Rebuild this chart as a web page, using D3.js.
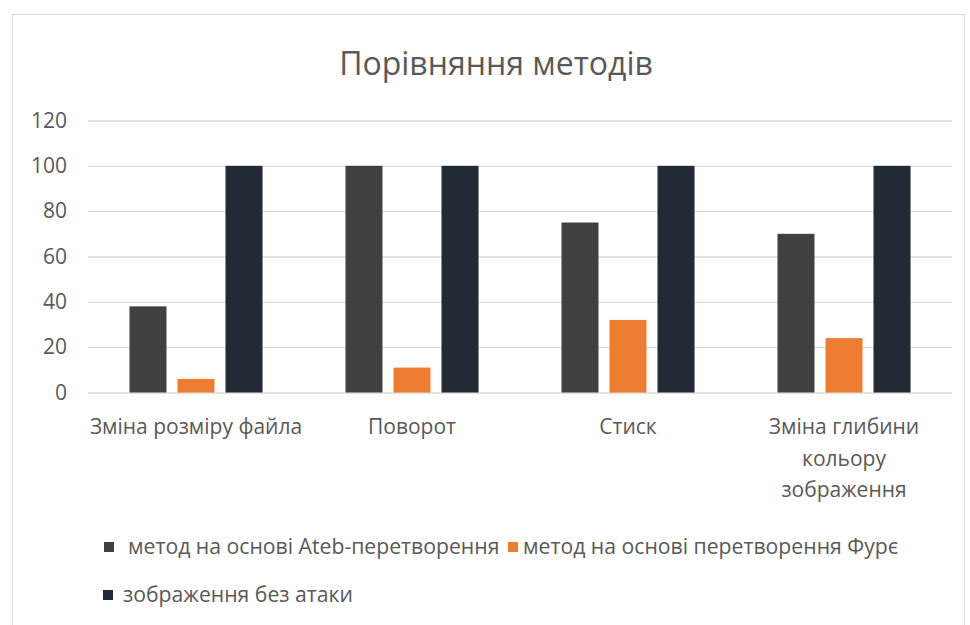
<!DOCTYPE html>
<html>
<head>
<meta charset="utf-8">
<script src="https://cdn.jsdelivr.net/npm/d3@7"></script>
<style>
  html, body { margin: 0; padding: 0; background: #fff; }
  svg { display: block; }
  text { font-family: "Open Sans", Lato, sans-serif; fill: #595959; }
</style>
</head>
<body>
<svg id="chart" width="970" height="625"></svg>
<script>
// Categories (attack types) and the three compared series
const categories = [
  ["Зміна розміру файла"],
  ["Поворот"],
  ["Стиск"],
  ["Зміна глибини", "кольору", "зображення"]
];
const seriesNames = [
  "метод на основі Ateb-перетворення",
  "метод на основі перетворення Фурє",
  "зображення без атаки"
];
const atebValues    = [38, 100, 75, 70];
const fourierValues = [6, 11, 32, 24];
const noAttackValues = [100, 100, 100, 100];
const yTicks = [0, 20, 40, 60, 80, 100, 120];
const colors = ["#404040", "#ED7D31", "#222A35"];
const title = "Порівняння методів";

const seriesValues = [atebValues, fourierValues, noAttackValues];
const catKeys = categories.map(c => c.join(" "));

const svg = d3.select("#chart");

// outer chart-area frame
svg.append("rect")
  .attr("x", 12.5).attr("y", 14.5)
  .attr("width", 952).attr("height", 640)
  .attr("fill", "#fff").attr("stroke", "#d9d9d9").attr("stroke-width", 1);

const plot = { left: 88, right: 952, top: 120.5, bottom: 392.5 };

const x0 = d3.scaleBand().domain(catKeys).range([plot.left, plot.right]).padding(0);
const x1 = d3.scaleBand().domain(d3.range(seriesNames.length))
  .range([0, x0.bandwidth()])
  .paddingInner(0.229).paddingOuter(0.864);
const y = d3.scaleLinear().domain([0, 120]).range([plot.bottom, plot.top]);

// title
svg.append("text")
  .attr("x", 496).attr("y", 74.5)
  .attr("text-anchor", "middle")
  .style("font-size", "32px")
  .text(title);

// horizontal gridlines with value labels
const yAxis = d3.axisLeft(y).tickValues(yTicks).tickSize(-(plot.right - plot.left)).tickPadding(21);
const gAxis = svg.append("g")
  .attr("transform", `translate(${plot.left},0)`)
  .call(yAxis);
gAxis.select(".domain").remove();
gAxis.selectAll(".tick line").attr("stroke", "#d9d9d9").attr("stroke-width", 1.3);
gAxis.selectAll(".tick text")
  .style("font-size", "21px")
  .style("font-family", "'Open Sans', Lato, sans-serif")
  .attr("fill", "#595959");

// bars
const groups = svg.append("g").selectAll("g")
  .data(catKeys)
  .join("g")
  .attr("transform", d => `translate(${x0(d)},0)`);

groups.selectAll("rect")
  .data((d, i) => seriesValues.map((vals, s) => ({ s, v: vals[i] })))
  .join("rect")
  .attr("x", d => x1(d.s))
  .attr("width", x1.bandwidth())
  .attr("y", d => y(d.v))
  .attr("height", d => y(0) - y(d.v))
  .attr("fill", d => colors[d.s]);

// category labels (multi-line where needed)
const catLabels = svg.append("g").selectAll("text")
  .data(categories)
  .join("text")
  .attr("x", (d, i) => x0(catKeys[i]) + x0.bandwidth() / 2)
  .attr("y", 434)
  .attr("text-anchor", "middle")
  .style("font-size", "21px");
catLabels.selectAll("tspan")
  .data(d => d)
  .join("tspan")
  .attr("x", function () { return this.parentNode.getAttribute("x"); })
  .attr("dy", (d, i) => i === 0 ? 0 : 31.5)
  .text(d => d);

// legend
const legendItems = [
  { s: 0, x: 104, y: 547, tx: 128 },
  { s: 1, x: 508, y: 547, tx: 523 },
  { s: 2, x: 103, y: 595, tx: 123 }
];
const lg = svg.append("g").selectAll("g")
  .data(legendItems)
  .join("g");
lg.append("rect")
  .attr("x", d => d.x).attr("y", d => d.y - 5)
  .attr("width", 10).attr("height", 10)
  .attr("fill", d => colors[d.s]);
lg.append("text")
  .attr("x", d => d.tx).attr("y", d => d.y + 7)
  .style("font-size", "21.2px")
  .text(d => seriesNames[d.s]);
</script>
</body>
</html>
